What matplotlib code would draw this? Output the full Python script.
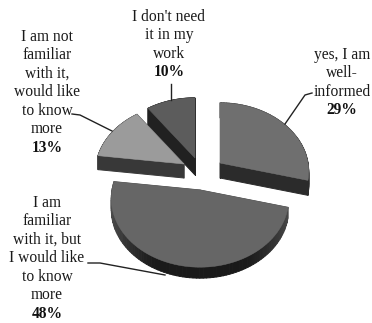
import numpy as np
import matplotlib
matplotlib.use("Agg")
import matplotlib.pyplot as plt
from matplotlib.collections import PolyCollection

plt.rcParams["font.family"] = ["Liberation Serif", "DejaVu Serif"]

# Survey answers, clockwise from twelve o'clock
answers = [
    ["yes, I am", "well-", "informed"],
    ["I am", "familiar", "with it, but", "I would like", "to know", "more"],
    ["I am not", "familiar", "with it,", "would like", "to know", "more"],
    ["I don't need", "it in my", "work"],
]
shares = [29, 48, 13, 10]

# Drawing style of each slice
apexes = [(220, 163), (200, 190), (184, 164), (195, 158)]
depths = [15, 11, 14, 17]
top_colors = ["#6f6f6f", "#666666", "#9b9b9b", "#5c5c5c"]
side_dark = [0.13, 0.10, 0.17, 0.10]
side_light = [0.17, 0.30, 0.22, 0.13]

# Label layout: text centre, first line, line pitch
label_x = [342, 47, 47, 169]
label_y = [55, 203, 37, 17]
line_pitch = 18.45
leaders = [
    [(312, 93), (305, 95), (285, 124)],
    [(88, 263), (100, 263), (165, 275)],
    [(72, 114), (80, 115), (112, 131)],
    [(171, 84), (171, 100)],
]

# Projection of the tilted disc
RX, K, P = 88.0, 67.6, 0.124


def project(theta):
    u, v = np.sin(theta), -np.cos(theta)
    w = 1 - P * v
    return RX * u / w, K * v / w


fig = plt.figure(figsize=(3.72, 3.23), dpi=100)
ax = fig.add_axes([0, 0, 1, 1])
ax.set_xlim(0, 372)
ax.set_ylim(323, 0)
ax.axis("off")

edges = np.cumsum([0] + shares) / sum(shares) * 2 * np.pi
for i in [3, 2, 0, 1]:
    theta = np.linspace(edges[i], edges[i + 1], 90)
    ox, oy = project(theta)
    ax_, ay_ = apexes[i]
    xs = np.r_[ax_, ax_ + ox]
    ys = np.r_[ay_, ay_ + oy]
    closed = np.c_[np.r_[xs, xs[0]], np.r_[ys, ys[0]]]
    quads = []
    shades = []
    for a, b in zip(closed[:-1], closed[1:]):
        quads.append([a, b, b + (0, depths[i]), a + (0, depths[i])])
        # Rim darkens towards the front of the disc
        front = np.clip(((a[1] + b[1]) / 2 - ay_) / K, 0, 1)
        g = side_light[i] + (side_dark[i] - side_light[i]) * front ** 2
        shades.append((g, g, g))
    ax.add_collection(PolyCollection(quads, facecolors=shades, edgecolors=shades, linewidths=0.7))
    ax.fill(xs, ys, color=top_colors[i], lw=0.4, zorder=2)

for pts in leaders:
    px, py = zip(*pts)
    ax.plot(px, py, color="#222222", lw=1.0, zorder=3, solid_joinstyle="round")

for name, share, x, y in zip(answers, shares, label_x, label_y):
    for j, line in enumerate(name):
        ax.text(x, y + j * line_pitch, line, ha="center", va="center", fontsize=11.2, color="#1a1a1a")
    ax.text(x, y + len(name) * line_pitch, f"{share}%", ha="center", va="center",
            fontsize=11.2, fontweight="bold", color="#111111")

fig.savefig("out.png", dpi=100)
